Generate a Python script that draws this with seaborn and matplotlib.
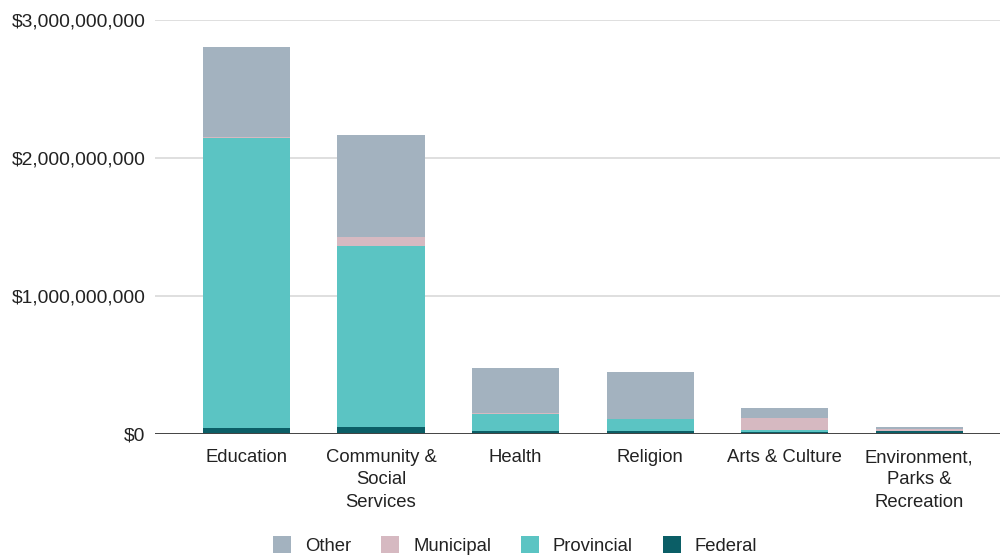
import matplotlib
matplotlib.use("Agg")
import matplotlib.pyplot as plt
from matplotlib.patches import Patch
from matplotlib.ticker import FuncFormatter
import numpy as np
import pandas as pd
import seaborn as sns

categories = ["Education", "Community &\nSocial\nServices", "Health", "Religion",
              "Arts & Culture", "Environment,\nParks &\nRecreation"]
federal = [0.043e9, 0.053e9, 0.022e9, 0.020e9, 0.017e9, 0.020e9]
provincial = [2.105e9, 1.311e9, 0.126e9, 0.087e9, 0.012e9, 0.005e9]
municipal = [0.005e9, 0.066e9, 0.003e9, 0.002e9, 0.085e9, 0.008e9]
other = [0.651e9, 0.737e9, 0.325e9, 0.338e9, 0.078e9, 0.016e9]

series_names = ["Other", "Municipal", "Provincial", "Federal"]
series_colors = {"Other": "#a3b2bf", "Municipal": "#d6b9c1",
                 "Provincial": "#5bc4c3", "Federal": "#0b5e66"}

sns.set_theme(style="white")
plt.rcParams["font.family"] = ["Liberation Sans", "DejaVu Sans"]
text_color = "#222222"

df = pd.DataFrame({"category": categories, "Federal": federal, "Provincial": provincial,
                   "Municipal": municipal, "Other": other})
# cumulative heights, stacked from the bottom (Federal) upwards
df["cum_Federal"] = df["Federal"]
df["cum_Provincial"] = df["cum_Federal"] + df["Provincial"]
df["cum_Municipal"] = df["cum_Provincial"] + df["Municipal"]
df["cum_Other"] = df["cum_Municipal"] + df["Other"]

fig = plt.figure(figsize=(10.03, 5.56), dpi=100)
ax = fig.add_axes([0.1545, 0.2194, 0.8425, 0.7446])

for name in series_names:
    sns.barplot(data=df, x="category", y=f"cum_{name}", color=series_colors[name],
                width=0.647, saturation=1, ax=ax, order=categories, zorder=3,
                edgecolor="none", linewidth=0)

ax.set_ylim(0, 3.0e9)
ax.set_xlim(-0.68, 5.6)
ax.set_yticks([0, 1e9, 2e9, 3e9])
ax.yaxis.set_major_formatter(FuncFormatter(lambda v, p: f"${v:,.0f}"))
ax.grid(axis="y", color="#d9d9d9", linewidth=1.2, zorder=0)
ax.axhline(0, color="#444444", linewidth=1.4, zorder=4)
for s in ax.spines.values():
    s.set_visible(False)
ax.set_xlabel("")
ax.set_ylabel("")
ax.tick_params(axis="y", length=0, pad=7, labelsize=13.9, labelcolor=text_color)
ax.tick_params(axis="x", length=0, pad=11, labelsize=13.3, labelcolor=text_color)
for lbl in ax.get_xticklabels():
    lbl.set_linespacing(1.4)

handles = [Patch(facecolor=series_colors[n], edgecolor="none", label=n) for n in series_names]
fig.legend(handles=handles, loc="center", bbox_to_anchor=(0.5135, 0.019), ncol=4,
           frameon=False, fontsize=13.3, handlelength=1.0, handleheight=1.0,
           handletextpad=0.75, columnspacing=1.6, labelcolor=text_color)

fig.savefig("out.png", dpi=100, facecolor="white")
